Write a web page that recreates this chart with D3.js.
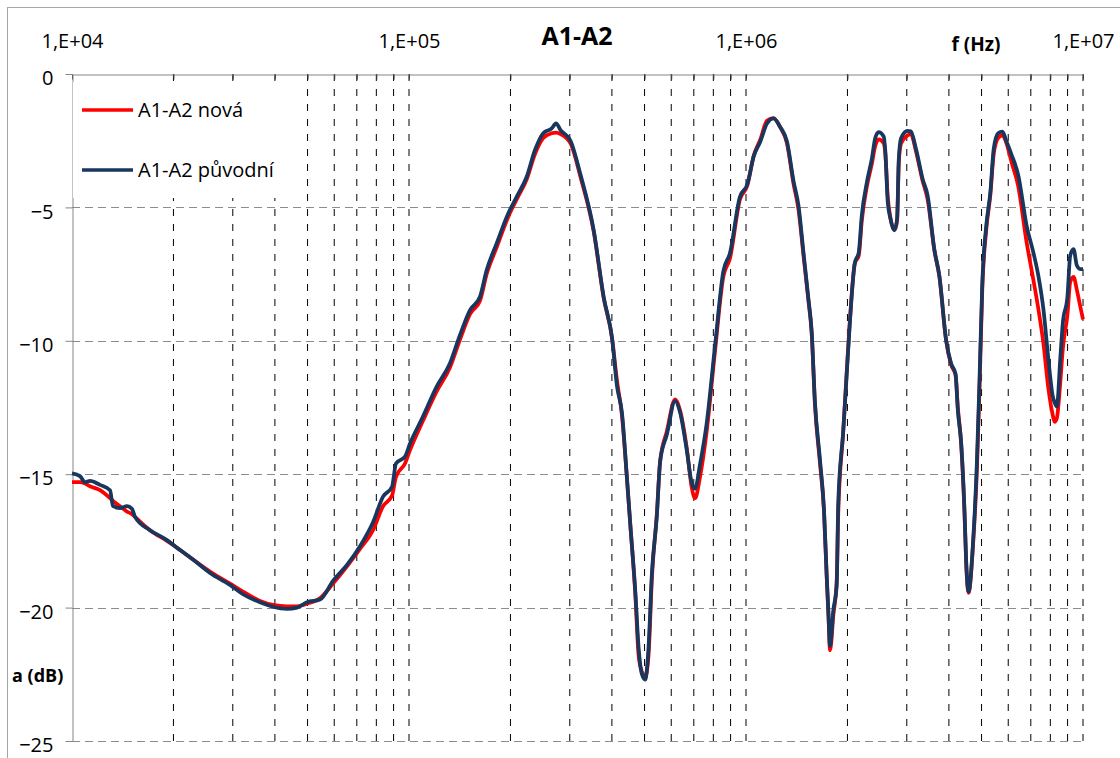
<!DOCTYPE html>
<html>
<head>
<meta charset="utf-8">
<script src="https://cdnjs.cloudflare.com/ajax/libs/d3/7.8.5/d3.min.js"></script>
<style>
  body { margin: 0; background: #ffffff; }
  text { font-family: "Open Sans", sans-serif; fill: #000000; }
</style>
</head>
<body>
<script>
// Frequencies in kHz (log axis).
var freqKHz = [10.0, 10.56, 10.93, 11.31, 12.11, 12.97, 13.23, 13.88, 14.56, 15.07, 15.38, 17.04, 19.13, 20.21, 22.86, 25.67, 29.44, 32.17, 36.13, 39.5,
    43.45, 46.54, 49.82, 54.45, 59.5, 65.46, 71.55, 78.2, 83.75, 89.05, 91.5, 97.3, 100.7, 110, 120.8, 132.3, 141.7, 151.7, 162.4, 170,
    182, 197.1, 208.7, 223.5, 236.5, 250.3, 265.1, 273.1, 281.6, 301.5, 322.6, 353.2, 378.2, 400.4, 414.2, 428.5, 443.6, 453.7, 469.4, 480.1,
    491, 502.2, 513.7, 525.8, 543.6, 556.4, 582.1, 616.1, 637.2, 666.8, 690.2, 706, 730.4, 764.3, 809, 856.4, 896.6, 959.2, 1008, 1055,
    1103, 1154, 1207, 1264, 1323, 1383, 1432, 1481, 1532, 1566, 1602, 1658, 1704, 1735, 1755, 1776, 1816, 1858, 1878, 1943,
    1987, 2032, 2103, 2161, 2206, 2285, 2364, 2418, 2475, 2562, 2591, 2634, 2683, 2757, 2808, 2841, 2886, 3015, 3084, 3194,
    3342, 3459, 3621, 3749, 3925, 4061, 4186, 4252, 4352, 4451, 4503, 4575, 4715, 4845, 4935, 5027, 5166, 5313, 5433, 5599,
    5766, 5929, 6135, 6423, 6801, 7120, 7370, 7631, 7896, 8138, 8232, 8364, 8558, 8712, 8995, 9162, 9371, 9591, 9811, 10000];

// "A1-A2 nová" (red), dB
var novaDb = [-15.3, -15.3, -15.35, -15.45, -15.6, -15.9, -16.0, -16.2, -16.4, -16.5, -16.6, -17.1, -17.5, -17.7, -18.2, -18.65, -19.1, -19.4, -19.75, -19.9,
    -19.95, -19.95, -19.85, -19.65, -19.1, -18.45, -17.8, -17.1, -16.2, -15.8, -15.1, -14.6, -14.1, -13.0, -11.9, -11.0, -9.95, -9.0, -8.5, -7.5,
    -6.5, -5.35, -4.7, -3.95, -3.0, -2.4, -2.22, -2.2, -2.25, -2.6, -3.85, -5.9, -8.4, -9.9, -11.5, -12.8, -15.2, -16.9, -19.5, -21.8,
    -22.4, -22.6, -21.8, -18.9, -16.5, -14.5, -13.4, -12.2, -12.6, -14.0, -15.5, -15.9, -15.1, -13.4, -10.4, -7.6, -6.9, -4.7, -4.2, -3.05,
    -2.45, -1.75, -1.65, -2.0, -2.6, -4.1, -5.1, -6.8, -8.5, -9.7, -12.4, -14.6, -16.4, -18.8, -20.2, -21.6, -20.3, -19.0, -16.5, -13.4,
    -11.3, -9.3, -7.1, -6.8, -5.5, -4.2, -3.35, -2.7, -2.45, -2.6, -3.0, -4.6, -5.4, -5.85, -5.5, -3.3, -2.6, -2.3, -2.25, -2.9,
    -4.0, -4.7, -6.6, -7.6, -10.0, -10.9, -11.3, -12.5, -13.9, -16.5, -18.4, -19.45, -17.7, -14.8, -11.6, -8.0, -5.8, -4.5, -3.0, -2.4,
    -2.3, -2.6, -3.3, -4.2, -6.3, -7.7, -8.8, -10.1, -11.8, -12.8, -13.04, -12.9, -11.6, -10.3, -9.0, -7.8, -7.6, -8.1, -8.7, -9.2];

// "A1-A2 původní" (dark blue), dB
var puvodniDb = [-14.97, -15.07, -15.3, -15.25, -15.4, -15.6, -16.2, -16.27, -16.2, -16.3, -16.6, -17.1, -17.47, -17.7, -18.2, -18.7, -19.15, -19.5, -19.8, -19.97,
    -20.05, -20.0, -19.8, -19.7, -19.0, -18.4, -17.7, -16.8, -15.84, -15.47, -14.6, -14.34, -13.85, -12.84, -11.72, -10.84, -9.78, -8.85, -8.35, -7.35,
    -6.35, -5.22, -4.6, -3.85, -2.85, -2.22, -2.04, -1.85, -2.1, -2.5, -3.76, -5.85, -8.36, -9.9, -11.7, -12.7, -15.2, -16.9, -19.4, -21.5,
    -22.5, -22.7, -21.5, -18.7, -16.6, -14.5, -13.52, -12.26, -12.68, -14.08, -15.33, -15.54, -14.63, -13.1, -10.2, -7.4, -6.7, -4.6, -4.15, -3.07,
    -2.53, -1.86, -1.66, -1.99, -2.53, -4.0, -4.95, -6.69, -8.43, -9.64, -12.32, -14.47, -16.35, -18.76, -20.1, -21.44, -20.1, -19.2, -16.1, -13.4,
    -11.4, -9.37, -7.09, -6.68, -5.3, -4.04, -3.16, -2.4, -2.18, -2.34, -2.9, -4.8, -5.42, -5.86, -5.42, -3.16, -2.4, -2.13, -2.15, -2.8,
    -3.93, -4.56, -6.57, -7.58, -9.97, -10.85, -11.23, -12.6, -13.87, -16.4, -18.3, -19.4, -17.6, -14.5, -11.3, -7.8, -5.66, -4.4, -2.8, -2.22,
    -2.16, -2.53, -3.02, -3.78, -5.68, -6.68, -7.56, -8.82, -10.71, -12.09, -12.3, -12.47, -10.71, -9.33, -8.32, -6.81, -6.56, -7.18, -7.31, -7.31];

var yTicks = [0, -5, -10, -15, -20, -25];
var decadeTicks = [1e4, 1e5, 1e6, 1e7];
var decadeLabels = ["1,E+04", "1,E+05", "1,E+06", "1,E+07"];

var seriesNames = ["A1-A2 nová", "A1-A2 původní"];
var seriesColors = ["#ff0000", "#17375e"];

var w = 1120;
var h = 758;

var svg = d3.select("body").append("svg")
    .attr("width", w)
    .attr("height", h);

// Chart frame (runs off the right and bottom of the picture).
svg.append("rect")
    .attr("x", 7.5).attr("y", 7.5)
    .attr("width", 1200).attr("height", 900)
    .attr("fill", "none")
    .attr("stroke", "#a6a6a6");

var x = d3.scaleLog().domain([1e4, 1e7]).range([72, 1083]);
var y = d3.scaleLinear().domain([-25, 0]).range([741, 74]);

// Vertical grid lines on every 1..9 x decade.
svg.append("g").selectAll("line")
    .data(x.ticks().filter(d => d > 1e4))
    .enter().append("line")
    .attr("x1", d => x(d)).attr("x2", d => x(d))
    .attr("y1", y(0)).attr("y2", y(-25))
    .attr("stroke", "#000000")
    .attr("stroke-width", 1)
    .attr("stroke-dasharray", "7,8");

// Horizontal grid lines.
svg.append("g").selectAll("line")
    .data(yTicks.filter(d => d < 0))
    .enter().append("line")
    .attr("x1", 72).attr("x2", x(1e7))
    .attr("y1", d => Math.round(y(d)) + 0.5).attr("y2", d => Math.round(y(d)) + 0.5)
    .attr("stroke", "#8c8c8c")
    .attr("stroke-width", 1)
    .attr("stroke-dasharray", "8,5");

// Frequency axis on top, ticks pointing down.
var topAxis = svg.append("g")
    .attr("transform", "translate(0," + (Math.round(y(0)) + 0.5) + ")")
    .call(d3.axisBottom(x).ticks(10).tickSize(5).tickSizeOuter(0).tickFormat(""));
topAxis.select(".domain").attr("stroke", "#868686");
topAxis.selectAll(".tick line").attr("stroke", "#404040");

var decadeAxis = svg.append("g")
    .attr("transform", "translate(0,74)")
    .call(d3.axisTop(x).tickValues(decadeTicks).tickSize(0).tickPadding(26)
        .tickFormat((d, i) => decadeLabels[i]));
decadeAxis.select(".domain").remove();
decadeAxis.selectAll("text")
    .style("font-family", "'Open Sans', sans-serif")
    .style("font-size", "20px")
    .attr("fill", "#000");

// Y axis.
var yAxis = svg.append("g")
    .attr("transform", "translate(72.5,0)")
    .call(d3.axisLeft(y).tickValues(yTicks).tickSize(7).tickSizeOuter(0).tickPadding(12));
yAxis.select(".domain").attr("stroke", "#868686");
yAxis.selectAll(".tick line").attr("stroke", "#868686");
yAxis.selectAll("text")
    .attr("dy", "0.53em")
    .style("font-family", "'Open Sans', sans-serif")
    .style("font-size", "20px")
    .attr("fill", "#000");

// Legend box covers the grid behind it.
var legend = svg.append("g");
legend.append("rect")
    .attr("x", 73).attr("y", 82)
    .attr("width", 228).attr("height", 116)
    .attr("fill", "#ffffff");

var legendItem = legend.selectAll(".item")
    .data(seriesNames)
    .enter().append("g")
    .attr("class", "item")
    .attr("transform", (d, i) => "translate(0," + (110 + i * 60) + ")");
legendItem.append("line")
    .attr("x1", 82).attr("x2", 133)
    .attr("stroke", (d, i) => seriesColors[i])
    .attr("stroke-width", 3.5);
legendItem.append("text")
    .attr("x", 138).attr("y", 7)
    .style("font-size", "20px")
    .text(d => d);

// The two measured curves.
var series = [novaDb, puvodniDb];
var line = d3.line()
    .x(d => x(d[0] * 1000))
    .y(d => y(d[1]))
    .curve(d3.curveMonotoneX);

svg.append("g").selectAll("path")
    .data(series)
    .enter().append("path")
    .attr("d", s => line(freqKHz.map((f, i) => [f, s[i]])))
    .attr("fill", "none")
    .attr("stroke", (d, i) => seriesColors[i])
    .attr("stroke-width", 3.75)
    .attr("stroke-linejoin", "round");

// Titles.
svg.append("text")
    .attr("x", 577).attr("y", 45)
    .attr("text-anchor", "middle")
    .style("font-size", "25px").style("font-weight", "bold")
    .text("A1-A2");

svg.append("text")
    .attr("x", 976).attr("y", 51)
    .attr("text-anchor", "middle")
    .style("font-size", "19px").style("font-weight", "bold")
    .text("f (Hz)");

svg.append("text")
    .attr("x", 12).attr("y", 682)
    .style("font-size", "18px").style("font-weight", "bold")
    .text("a (dB)");
</script>
</body>
</html>
